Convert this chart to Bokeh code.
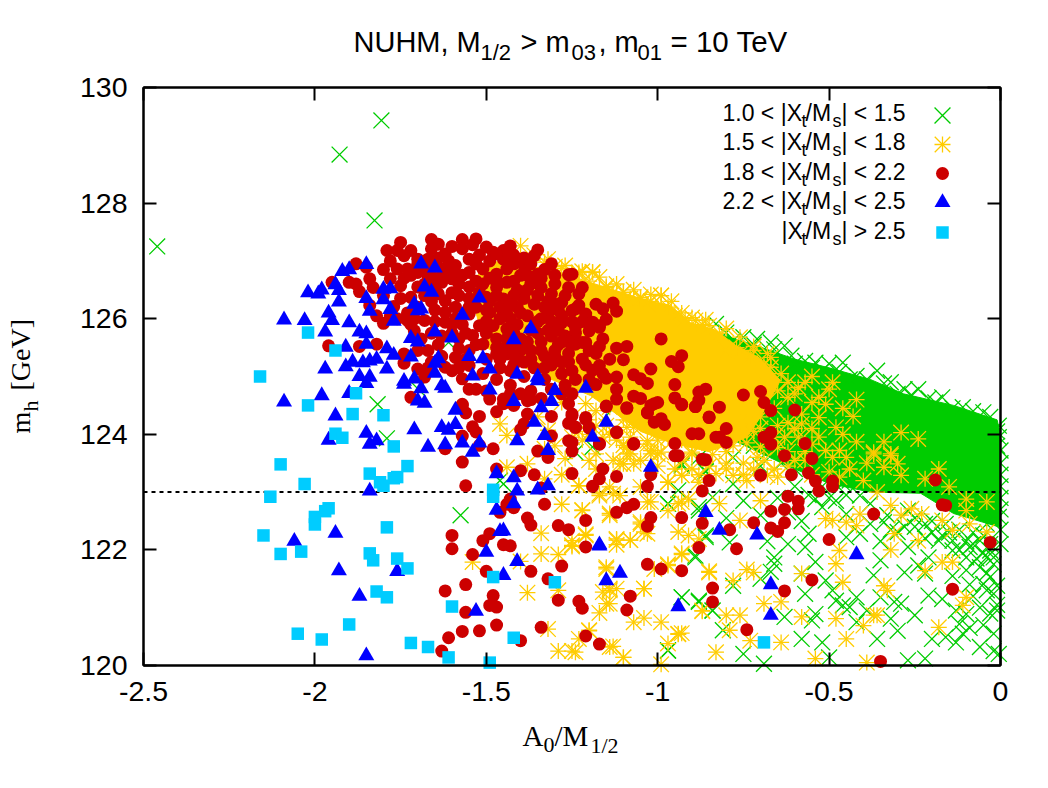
from bokeh.plotting import figure
from bokeh.layouts import column
from bokeh.models import Label, LinearAxis, FixedTicker
from bokeh.embed import file_html
from bokeh.resources import INLINE

x_ticks = [-2.5, -2, -1.5, -1, -0.5, 0]
x_tick_labels = ["-2.5", "-2", "-1.5", "-1", "-0.5", "0"]
y_ticks = [120, 122, 124, 126, 128, 130]
y_tick_labels = ["120", "122", "124", "126", "128", "130"]
limit_x = [-2.5, 0]
limit_y = [123, 123]

# dense, saturated parts of the two lower layers (outline)
green_mass_x = [-0.83,-0.72,-0.60,-0.50,-0.38,-0.283,-0.137,-0.01,0,0,-0.137,-0.233,-0.38,-0.50,-0.62,-0.78,-0.95]
green_mass_y = [125.75,125.55,125.3,125.15,124.95,124.7,124.5,124.25,124.0,122.39,122.63,122.98,123.0,123.15,123.45,123.9,124.2]
yellow_mass_x = [-1.55,-1.50,-1.40,-1.284,-1.167,-1.05,-0.963,-0.904,-0.83,-0.773,-0.70,-0.642,-0.70,-0.74,-0.85,-0.96,-1.05,-1.108,-1.196,-1.371,-1.50]
yellow_mass_y = [126.5,127.0,126.95,126.8,126.57,126.35,126.23,125.93,125.8,125.54,125.31,124.93,124.3,123.95,123.7,123.85,124.05,124.3,124.67,125.10,125.5]

green_pts = [
(-2.46,127.25),(-1.928,128.84),(-1.806,129.43),(-1.826,127.70),(-1.817,124.52),(-1.79,123.93),(-1.575,122.60),(-1.46,123.2),(-1.61,125.59),(-1.70,124.79),
(-0.93,123.49),(-0.86,123.35),(-0.78,123.14),(-0.97,122.80),(-0.88,122.74),(-0.93,121.18),(-0.88,121.10),(-0.84,120.95),(-0.86,122.22),(-0.79,122.13),(-0.89,121.90),(-0.66,121.76),(-0.67,121.62),(-0.70,121.50),(-0.66,121.87),
(-0.56,122.28),(-0.57,122.05),(-0.54,121.79),(-0.58,121.59),(-0.45,122.22),(-0.41,122.28),(-0.51,121.47),(-0.49,121.30),(-0.46,121.04),(-0.42,121.18),(-0.37,121.56),(-0.35,121.82),(-0.28,121.61),(-0.24,121.73),(-0.21,121.87),(-0.22,121.59),(-0.21,121.21),(-0.25,120.87),(-0.31,121.10),(-0.35,121.18),(-0.39,120.95),(-0.32,120.81),(-0.36,120.46),(-0.20,120.46),(-0.16,120.49),(-0.27,120.09),(-0.22,120.12),(-0.06,120.32),(-0.02,120.55),(-0.12,120.72),(-0.10,120.89),(-0.11,120.55),(-0.05,121.41),(-0.03,121.53),(-0.06,121.70),(-0.02,121.24),(-0.04,121.87),(-0.09,122.05),(-0.14,122.16),(-0.02,121.87),(-0.01,121.38),(-0.01,120.95),(-0.005,120.2),
(-0.55,120.78),(-0.54,120.89),(-0.58,120.46),(-0.63,120.84),(-0.69,120.03),(-0.75,120.2),(-0.81,120.61),(-0.97,120.26),(-0.57,121.24),(-0.78,121.38),(-0.50,120.14),(-0.48,121.12),(-0.44,121.01),(-0.29,121.07),
(-0.54,122.88),(-0.52,122.74),(-0.48,122.85),(-0.45,122.62),(-0.41,122.94),(-0.34,122.48),(-0.30,122.31),(-0.27,122.68),(-0.22,122.45),(-0.14,121.99),(-0.10,121.87),(-0.03,121.99),(-0.06,122.16),(-0.18,122.16),(-0.005,122.57),
(-1.19,123.78),(-1.24,123.69),(-1.45,123.14),(-0.93,123.46),(-0.86,123.37),(-0.94,123.03),(-0.97,122.80),(-0.88,122.68),(-0.86,122.25),(-0.89,121.87),(-0.93,121.18),(-0.88,121.12),(-0.84,120.95),(-0.97,120.26),(-1.13,124.44),(-0.88,123.60),(-0.84,122.91),
(-0.83,125.91),(-0.80,125.76),(-0.75,125.68),(-0.71,125.65),(-0.67,125.59),(-0.63,125.53),(-0.61,125.36),(-0.57,125.27),(-0.54,125.24),(-0.50,125.22),(-0.46,125.24),(-0.42,125.01),(-0.36,125.10),(-0.32,124.90),(-0.28,124.78),(-0.24,124.78),(-0.17,124.64),(-0.11,124.47),(-0.05,124.38),(-0.005,124.15),(-0.005,123.95),(0,123.72),
(-0.78,125.62),(-0.72,125.55),(-0.66,125.47),(-0.60,125.22),(-0.55,125.15),(-0.52,125.10),(-0.47,125.08),(-0.44,124.95),(-0.39,124.95),(-0.34,124.88),(-0.30,124.70),(-0.26,124.68),(-0.21,124.62),(-0.19,124.55),(-0.14,124.45),(-0.08,124.40),(-0.03,124.30),(-0.01,124.05),(-0.01,123.8),(0,123.5),(0,123.3),(0,123.1),(0,122.9),(0,122.7),(0,122.35),(0,122.1),
(-0.75,124.0),(-0.72,123.8),(-0.68,123.7),(-0.62,123.9),(-0.58,123.75),(-0.55,123.6),(-0.6,123.4),(-0.64,123.5),(-0.7,123.45),(-0.78,123.6),(-0.82,123.9),(-0.52,123.4),(-0.47,123.4),(-0.46,123.15),(-0.52,123.1),(-0.56,122.95),(-0.6,123.1),
(-0.72,124.4),(-0.68,124.3),(-0.66,124.5),(-0.63,124.3),(-0.6,124.55),(-0.57,124.4),(-0.55,124.7),(-0.56,124.95),(-0.53,124.95),(-0.5,124.7),(-0.47,124.6),(-0.45,124.3),(-0.5,124.2),(-0.48,124.0),(-0.52,123.8),(-0.44,123.2),(-0.5,122.9),(-0.45,122.95),(-0.38,122.8),(-0.33,122.6),(-0.25,122.55),(-0.2,122.3),(-0.12,122.35),(-0.08,122.3),
(-0.65,122.9),(-0.7,122.6),(-0.62,122.65),(-0.58,122.5),(-0.75,122.85),(-0.8,122.55),(-0.68,122.15),(-0.62,122.1),(-0.38,122.45),(-0.35,122.15),(-0.27,122.05),(-0.16,122.45),(-0.04,122.45),(-0.02,122.55),(-0.04,121.6),(-0.08,121.2),(-0.13,120.95),(-0.17,121.15),(-0.14,121.55),(-0.3,120.6),(-0.42,120.75),(-0.52,120.4),
(-0.25,122.4),(-0.2,122.5),(-0.15,122.3),(-0.1,122.15),(-0.05,122.25),(-0.03,122.1),(-0.08,122.1),(-0.12,122.0),(-0.17,122.25),(-0.22,122.2),(-0.28,122.4),(-0.32,122.35),(-0.07,121.85),(-0.02,121.75),(-0.05,121.95),(-0.1,121.65),(-0.04,121.3),(-0.09,121.4),(-0.01,121.05),(-0.03,120.9),(-0.06,121.0),(-0.09,120.65),(-0.05,120.7),(-0.13,120.4),(-0.02,120.25),
]
yellow_pts = [
(-1.46,124.18),(-1.44,123.98),(-1.44,123.43),(-1.38,123.49),(-1.33,123.23),(-1.28,123.30),(-1.27,123.58),(-1.23,123.11),(-1.18,123.40),(-1.10,123.49),(-1.07,123.49),(-1.17,122.94),(-1.13,122.97),(-1.11,122.94),(-1.28,122.79),(-1.22,122.68),(-1.14,122.63),(-1.03,122.83),(-1.05,122.48),(-0.97,122.68),(-0.94,122.80),(-0.91,122.88),(-1.34,122.29),(-1.21,122.27),(-1.25,122.16),(-1.25,122.06),(-1.34,121.93),(-1.29,121.92),(-1.54,121.79),(-1.40,121.80),(-1.12,122.19),(-1.12,122.09),(-1.08,122.17),(-1.04,122.31),(-0.94,122.31),(-0.91,122.25),(-0.88,122.19),(-0.93,121.94),(-1.01,121.67),(-0.97,121.75),(-0.85,121.63),(-1.15,121.70),(-1.38,121.26),(-1.29,121.30),(-1.16,121.27),(-1.14,121.33),(-1.12,121.33),(-1.04,121.33),(-1.14,121.07),(-1.17,120.91),(-1.07,120.75),(-1.04,120.82),(-0.99,120.75),(-0.94,120.54),(-0.93,120.56),(-1.32,120.63),(-1.20,120.60),(-1.23,120.46),(-1.13,120.33),(-1.29,120.25),(-1.25,120.25),(-1.10,120.14),(-0.99,120.02),(-0.83,120.23),(-0.87,120.95),(-1.02,124.24),(-1.03,123.89),(-0.99,123.69),(-0.90,123.69),(-1.10,123.81),(-1.08,123.66),(-1.14,124.47),(-1.05,124.30),(-1.07,124.12),(-1.21,124.53),(-1.18,124.41),(-1.32,124.07),(-0.97,123.17),(-0.88,123.17),(-0.93,123.29),(-1.05,123.09),(-1.14,123.09),
(-1.18,123.66),(-1.11,123.49),(-1.23,123.11),(-1.17,122.97),(-1.09,123.66),(-1.02,123.66),(-1.0,123.66),(-0.97,123.17),(-0.93,123.29),(-1.02,122.83),(-0.93,122.83),(-0.82,122.80),(-1.22,122.69),(-1.14,122.60),(-1.05,122.45),(-1.21,122.25),(-1.25,122.08),(-1.12,122.17),(-1.08,122.17),(-1.03,122.28),(-0.93,121.92),(-1.15,121.67),(-0.97,121.73),(-0.85,121.61),(-1.04,121.33),(-1.14,121.30),(-1.15,121.07),(-0.94,120.55),(-1.20,120.61),(-1.24,120.23),(-1.14,120.32),(-1.10,120.14),(-0.97,120.38),(-0.80,120.87),(-0.76,120.87),(-0.87,120.94),(-0.79,120.61),(-0.73,120.43),(-0.64,120.40),(-0.69,121.07),(-0.64,121.10),(-0.78,121.47),(-0.74,121.66),(-0.72,121.61),(-0.58,121.59),(-0.48,121.76),(-0.46,121.44),(-0.34,121.38),(-0.33,121.30),(-0.58,120.84),(-0.48,120.81),(-0.40,120.69),(-0.37,120.87),(-0.36,120.87),(-0.45,120.46),(-0.54,120.12),(-0.39,120.05),(-0.18,120.66),(-0.11,121.04),(-0.10,121.18),(-0.22,121.64),(-0.17,121.79),(-0.14,121.79),(-0.32,122.0),(-0.47,121.99),(-0.24,122.16),(-0.31,122.28),(-0.76,122.51),(-0.70,122.85),(-0.51,122.54),(-0.49,122.51),(-0.42,122.42),(-0.45,122.48),(-0.41,122.62),(-0.32,122.77),(-0.29,122.60),(-0.26,122.71),(-0.23,122.62),(-0.17,122.51),(-0.14,122.34),(-0.09,122.45),(-0.04,122.31),(-0.10,122.68),(-0.04,122.83),(-0.10,122.88),(-0.15,123.09),(-0.22,123.23),(-0.18,123.40),(-0.29,123.29),(-0.34,123.43),(-0.37,123.66),(-0.32,123.63),(-0.30,123.49),(-0.40,123.20),(-0.47,123.26),(-0.49,123.60),(-0.45,123.60),(-0.36,123.0),(-0.68,123.29),(-0.74,123.20),(-0.78,123.29),(-0.83,123.32),(-0.71,123.60),(-0.65,123.26),
(-0.43,124.31),(-0.29,124.03),(-0.24,123.92),(-0.42,123.87),(-0.34,123.87),(-0.32,123.66),(-0.37,123.69),(-0.59,124.81),(-0.50,124.78),(-0.53,124.64),(-0.51,124.52),(-0.53,124.29),(-0.48,124.12),(-0.46,124.0),(-0.51,123.72),(-0.47,123.72),(-0.58,124.18),(-0.62,124.64),(-0.67,125.33),(-0.67,125.16),(-0.72,125.45),(-0.76,125.39),(-0.85,125.88),(-0.92,126.0),(-0.99,126.40),(-1.19,126.80),(-1.15,126.54),(-1.23,126.80),(-1.10,126.45),(-1.05,126.34),(-1.03,126.25),(-0.97,126.20),(-0.89,125.97),(-0.83,125.62),(-0.80,125.45),(-0.68,124.87),(-0.65,124.75),(-0.74,124.06),(-0.65,123.77),(-0.59,123.95),(-0.55,123.83),(-1.03,123.83),(-1.09,123.77),(-1.09,124.12),(-1.02,123.72),(-0.90,123.66),(-0.76,123.95),
(-1.40,127.26),(-1.32,127.03),(-1.28,126.87),(-1.23,126.77),(-1.19,126.81),(-1.15,126.56),(-1.10,126.46),(-1.05,126.37),(-0.99,126.40),
(-1.36,127.1),(-1.3,126.9),(-1.25,126.72),(-1.2,126.65),(-1.13,126.45),(-1.08,126.35),(-1.02,126.3),(-0.95,126.05),(-0.87,125.9),(-0.82,125.75),(-0.77,125.5),(-0.73,125.35),(-0.69,125.2),(-0.64,125.05),(-0.62,124.9),(-0.6,124.7),(-0.57,124.9),(-0.55,124.55),(-0.58,124.35),(-0.62,124.2),(-0.66,124.45),(-0.7,124.3),(-0.55,124.1),(-0.62,123.7),(-0.68,123.9),(-0.72,124.05),(-0.78,123.8),(-0.84,123.65),(-0.8,123.5),(-0.75,123.5),(-0.69,123.55),(-0.62,123.45),(-0.57,123.55),(-0.55,123.3),(-0.5,123.35),(-0.53,123.95),(-0.44,123.4),(-0.39,123.5),(-0.42,124.6),(-0.46,124.45),(-0.49,124.9),(-0.55,125.0),
(-1.2,124.25),(-1.15,124.15),(-1.22,123.9),(-1.16,123.95),(-1.12,123.9),(-1.3,123.8),(-1.35,124.3),(-1.28,124.55),(-1.1,124.25),(-0.97,123.95),(-0.93,123.9),(-0.85,123.85),(-0.8,123.7),(-1.05,123.55),(-1.13,123.55),(-1.0,123.45),(-0.93,123.55),(-0.85,123.45),(-1.2,123.55),(-1.33,123.75),
(-1.33,126.98),(-1.27,126.92),(-1.22,126.82),(-1.17,126.72),(-1.12,126.6),(-1.07,126.5),(-1.02,126.42),(-0.96,126.3),(-0.93,126.1),(-0.9,126.02),(-0.86,125.98),(-0.8,125.83),(-0.76,125.68),(-0.72,125.52),(-0.68,125.4),
(-0.82,124.0),(-0.78,124.0),(-0.74,123.85),(-0.7,123.78),(-0.66,123.95),(-0.72,123.4),(-0.66,123.4),(-0.6,123.55),(-0.57,123.7),(-0.63,123.95),(-0.6,124.1),(-0.65,124.15),(-0.7,124.1),(-0.76,124.2),(-0.82,124.25),(-0.87,124.0),(-0.92,124.05),(-0.96,124.15),(-0.9,123.4),(-0.95,123.4),(-0.8,123.4),(-0.75,123.3),(-0.88,123.3),(-1.2,124.0),(-1.14,124.0),(-1.08,123.95),(-1.0,123.9),(-1.25,123.95),(-1.18,124.15),(-1.23,124.05),
]
red_pts = [
(-1.57,124.50),(-1.56,124.37),(-1.52,124.31),(-1.54,124.13),(-1.53,124.04),(-1.57,123.97),(-1.62,123.75),(-1.52,123.81),(-1.48,123.75),(-1.57,123.52),(-1.47,124.39),(-1.45,124.53),(-1.42,124.50),(-1.40,124.08),(-1.38,124.35),(-1.39,124.18),(-1.31,124.31),(-1.31,123.97),(-1.35,123.71),(-1.32,123.60),(-1.26,123.89),(-1.25,123.71),(-1.26,124.19),(-1.25,124.35),(-1.24,124.12),(-1.21,124.29),(-1.20,124.11),(-1.17,123.84),(-1.12,124.04),(-1.07,123.84),(-1.15,124.49),(-1.09,124.46),(-1.03,124.38),(-1.01,124.21),(-0.98,124.17),(-0.99,124.27),(-0.95,123.84),(-0.95,123.63),(-0.90,124.01),(-0.88,124.01),(-0.85,124.30),(-0.83,123.95),(-0.89,124.48),(-0.93,124.52),(-1.01,124.53),(-1.26,124.53),(-1.38,124.58),(-1.25,123.32),(-1.36,123.30),(-1.40,123.37),(-1.47,123.40),(-1.16,123.40),(-1.17,123.23),(-1.12,123.27),(-1.19,123.10),(-1.03,123.10),(-1.02,123.30),(-0.86,123.56),(-0.85,123.20),(-0.87,123.02),(-1.56,123.11),(-1.34,123.07),(-1.33,122.79),(-1.43,122.88),(-1.44,122.79),(-1.42,122.73),(-1.46,122.65),(-1.38,122.55),(-1.37,122.43),(-1.29,122.42),(-1.26,122.35),(-1.21,122.51),(-1.12,122.65),(-1.09,122.73),(-1.07,122.79),(-1.02,122.56),(-1.03,122.41),(-0.93,122.56),(-0.87,122.46),(-0.88,122.04),(-1.60,122.25),(-1.60,122.02),(-1.54,121.92),(-1.51,122.16),(-1.49,122.28),(-1.45,122.09),(-1.43,122.07),(-1.21,122.05),(-1.28,121.72),(-1.37,121.63),(-1.50,121.63),(-1.32,121.50),(-1.03,121.75),(-0.99,121.67),(-0.93,121.64),(-1.56,121.40),(-1.62,121.29),(-1.48,121.21),(-1.49,121.04),(-1.47,121.01),(-1.56,120.92),(-1.29,121.13),(-1.23,121.11),(-1.22,120.99),(-1.08,121.20),(-1.09,120.96),(-0.84,121.34),(-0.84,121.10),(-1.47,120.70),(-1.52,120.60),(-1.57,120.59),(-1.61,120.48),(-1.34,120.66),(-1.21,120.51),(-1.17,120.37),(-1.40,120.43),(-1.63,120.25),
(-0.94,123.63),(-0.63,123.63),(-0.55,123.58),(-0.70,123.29),(-0.61,123.30),(-0.56,123.33),(-0.54,123.19),(-0.49,123.19),(-0.49,123.10),(-0.53,123.02),(-0.62,122.93),(-0.59,122.84),(-0.59,122.71),(-0.63,122.70),(-0.67,122.67),(-0.72,122.47),(-0.63,122.47),(-0.67,122.38),(-0.65,122.32),(-0.79,122.35),(-0.77,122.02),(-0.50,122.18),(-0.37,122.62),(-0.19,123.21),(-0.17,122.78),(-0.16,122.77),(-0.03,122.13),(-0.55,121.48),(-0.14,121.32),(-0.63,121.29),(-0.74,120.62),(-0.35,120.07),
(-1.25,126.77),(-1.22,126.54),(-1.24,126.17),(-1.18,126.25),(-1.13,126.27),(-1.12,126.13),(-1.16,126.17),(-1.15,125.99),(-1.21,126.02),(-1.17,125.88),(-1.20,125.79),(-1.24,125.56),(-1.22,125.59),(-1.17,125.52),(-1.12,125.49),(-1.09,125.52),(-0.99,125.65),(-1.22,125.30),(-1.14,125.30),(-1.10,125.29),(-0.93,125.36),(-0.96,125.26),(-0.94,125.17),(-1.02,125.13),(-1.07,125.03),(-1.05,124.96),(-1.03,124.88),(-1.17,125.19),(-1.19,125.11),(-1.12,124.99),(-1.15,124.97),(-0.95,124.86),(-1.18,124.86),(-1.12,124.78),(-0.86,124.78),(-0.88,124.73),(-0.75,124.68),(-0.70,124.74),(-0.69,124.55),(-0.67,124.41),(-0.60,124.42),(-0.82,124.47),(-0.88,124.59),(-0.89,124.48),(-0.95,124.63),(-0.93,124.51),(-1.07,124.66),(-1.05,124.62),(-1.00,124.55),(-1.02,124.50),(-1.03,124.37),(-0.85,124.29),(-1.12,124.61),(-1.15,124.48),(-1.09,124.45),(-1.21,124.26),(-1.20,124.11),(-1.24,124.12),(-1.25,124.32),(-1.12,124.03),(-1.07,123.83),(-1.17,123.83),(-1.25,123.86),(-0.80,124.10),(-0.82,123.95),(-0.80,123.86),(-0.87,123.57),(-0.67,124.03),(-0.69,123.95),(-0.67,123.83),(-0.57,123.84),
(-1.43,127.26),(-1.44,127.18),(-1.35,127.19),(-1.36,127.09),(-1.48,127.15),(-1.35,126.77),(-1.26,126.76),(-1.26,126.54),(-1.23,126.43),(-1.34,126.54),(-1.30,126.60),(-1.31,126.43),(-1.28,126.28),(-1.32,126.08),(-1.25,126.14),(-1.23,126.23),(-1.21,126.08),(-1.22,125.95),(-1.19,125.94),(-1.17,125.85),(-1.28,125.93),(-1.30,125.88),(-1.24,125.75),(-1.21,125.59),(-1.25,125.56),
(-1.75,127.32),(-1.66,127.37),(-1.64,127.29),(-1.57,127.37),(-1.53,127.38),(-1.79,127.18),(-1.76,127.18),(-1.78,127.0),(-1.74,127.09),(-1.66,127.21),(-1.62,127.12),(-1.57,127.21),(-1.50,127.24),(-1.45,127.18),(-1.88,126.95),(-1.85,126.89),(-1.70,127.03),(-1.67,127.03),(-1.61,127.0),(-1.55,127.03),(-1.49,127.0),(-1.45,127.03),(-1.76,126.86),(-1.78,126.69),(-1.75,126.57),(-1.73,126.86),(-1.67,126.75),(-1.63,126.86),(-1.59,126.92),(-1.55,126.80),(-1.51,126.86),(-1.47,126.77),(-1.44,126.86),(-1.84,126.69),(-1.90,126.63),(-1.88,126.60),(-1.83,126.54),(-1.87,126.47),(-1.95,126.63),(-1.72,126.37),(-1.63,126.63),(-1.60,126.69),(-1.58,126.60),(-1.51,126.60),(-1.47,126.54),(-1.44,126.63),(-1.64,126.43),(-1.62,126.31),(-1.58,126.40),(-1.50,126.37),(-1.45,126.34),(-1.62,126.11),(-1.62,125.94),(-1.55,126.08),(-1.49,126.11),(-1.44,126.08),(-1.77,126.21),(-1.84,126.23),(-1.76,126.0),(-1.73,125.97),(-1.71,126.0),(-1.68,125.97),(-1.80,125.92),(-1.71,125.79),(-1.52,125.88),(-1.48,125.88),(-1.44,125.82),(-1.54,125.71),(-1.51,125.56),(-1.53,125.55),(-1.44,125.53),(-1.47,125.65),(-1.64,125.55),(-1.67,125.45),(-1.70,125.45),(-1.74,125.39),(-1.74,125.23),(-1.82,125.56),(-1.87,125.52),(-1.70,125.13),(-1.68,124.99),(-1.66,125.25),(-1.62,125.16),(-1.60,125.10),(-1.59,125.33),(-1.58,125.48),(-1.55,125.19),(-1.47,125.39),(-1.44,125.39),(-1.57,124.96),(-1.55,124.78),(-1.53,124.78),(-1.49,124.61),(-1.45,124.61),(-1.72,124.64),(-1.57,124.52),(-1.96,125.53),
(-1.42,126.95),(-1.40,126.75),(-1.39,126.92),(-1.37,126.6),(-1.41,126.5),(-1.39,126.35),(-1.36,126.25),(-1.41,126.2),(-1.38,126.05),(-1.35,125.95),(-1.41,125.9),(-1.37,125.8),(-1.32,125.8),(-1.40,125.65),(-1.34,125.6),(-1.37,125.45),(-1.41,125.3),(-1.33,125.35),(-1.29,125.55),(-1.31,125.2),(-1.36,125.15),(-1.43,125.1),(-1.39,125.0),(-1.33,124.95),(-1.28,125.05),(-1.26,125.25),(-1.43,124.85),(-1.37,124.75),(-1.31,124.78),(-1.27,124.85),
(-1.55,126.55),(-1.53,126.2),(-1.59,126.2),(-1.57,125.9),(-1.65,126.15),(-1.68,126.6),(-1.70,126.8),(-1.53,126.65),(-1.49,126.3),(-1.46,126.2),(-1.50,125.95),(-1.55,125.45),(-1.50,125.3),(-1.46,125.15),(-1.51,125.05),(-1.47,124.95),(-1.40,124.7),(-1.34,124.62),(-1.60,125.75),(-1.63,125.7),(-1.59,126.0),(-1.66,126.3),(-1.70,126.55),
(-1.72,127.18),(-1.70,126.95),(-1.66,126.92),(-1.64,127.05),(-1.60,127.25),(-1.54,127.28),(-1.52,127.1),(-1.47,127.12),(-1.42,127.1),(-1.39,127.05),(-1.33,126.85),(-1.30,126.75),(-1.32,126.3),(-1.29,126.15),(-1.34,126.0),(-1.31,125.7),(-1.27,125.7),(-1.34,125.45),(-1.3,125.35),(-1.39,125.25),(-1.47,125.5),(-1.42,125.5),(-1.58,125.65),(-1.56,125.3),(-1.43,126.0),(-1.47,126.4),(-1.55,126.35),(-1.74,126.7),(-1.8,126.85),(-1.65,126.55),(-1.6,126.45),(-1.53,126.95),
(-1.42,126.4),(-1.38,126.5),(-1.35,126.4),(-1.33,126.2),(-1.30,126.25),(-1.27,126.4),(-1.28,126.05),(-1.25,125.95),(-1.31,125.95),(-1.35,125.75),(-1.29,125.8),(-1.26,125.6),(-1.38,125.6),(-1.42,125.75),(-1.44,125.65),(-1.40,125.45),(-1.30,125.45),(-1.33,125.15),(-1.28,125.25),(-1.42,125.2),(-1.37,125.3),(-1.46,125.3),(-1.40,126.1),(-1.43,126.25),(-1.46,126.0),(-1.42,126.65),(-1.38,126.75),(-1.34,126.7),(-1.31,126.95),(-1.37,126.95),(-1.49,126.7),(-1.52,126.45),(-1.55,126.2),(-1.57,126.75),(-1.62,126.75),(-1.65,126.7),(-1.68,126.9),(-1.72,126.75),(-1.6,126.85),(-1.47,126.65),(-1.5,126.15),(-1.56,125.75),(-1.5,125.75),(-1.42,125.38),(-1.24,125.85),(-1.28,125.6),(-1.2,125.45),(-1.16,125.65),(-1.18,125.4),(-1.26,125.4),(-1.25,125.1),(-1.21,125.2),(-1.24,124.95),(-1.2,124.95),(-1.16,125.05),(-1.28,124.7),(-1.25,124.7),(-1.37,124.6),(-1.5,124.75),(-1.43,124.7),(-1.6,125.9),(-1.66,125.75),(-1.69,125.65),(-1.63,125.35),(-1.67,125.15),(-1.58,125.15),(-1.73,126.1),(-1.7,126.2),(-1.75,126.35),(-1.8,126.4),(-1.68,126.4),(-1.78,126.05),(-1.82,126.05),(-1.72,125.9),(-1.65,125.95),
]
blue_pts = [
(-1.85,126.94),(-1.92,126.82),(-1.90,126.85),(-1.69,126.95),(-1.65,126.88),(-2.02,126.45),(-1.98,126.50),(-1.99,126.43),(-1.94,126.59),(-1.93,126.49),(-1.80,126.51),(-1.78,126.52),(-1.68,126.55),(-1.66,126.46),(-1.93,126.29),(-1.85,126.35),(-1.80,126.33),(-1.52,126.36),(-1.96,126.10),(-1.84,126.13),(-1.78,126.16),(-1.71,126.25),(-1.69,126.17),(-1.70,126.14),(-1.95,125.97),(-2.09,125.98),(-2.03,125.97),(-1.77,125.96),(-1.57,126.06),(-1.90,125.93),(-1.87,125.77),(-1.85,125.74),(-1.97,125.77),(-1.65,125.77),(-1.60,125.67),(-1.37,125.83),(-1.42,125.64),(-1.72,125.66),(-1.70,125.60),(-1.91,125.51),(-1.85,125.56),(-1.79,125.48),(-1.77,125.37),(-1.89,125.25),(-1.91,125.17),(-1.86,125.24),(-1.84,125.27),(-1.82,125.30),(-1.72,125.34),(-1.79,125.13),(-1.97,125.13),(-1.64,125.31),(-1.65,125.23),(-1.65,125.06),(-1.55,125.35),(-1.51,125.31),(-1.49,125.13),(-1.41,125.04),(-1.35,124.99),(-1.54,125.01),(-1.87,125.0),(-1.84,124.99),(-1.74,124.92),(-1.71,124.96),
(-2.09,124.56),(-1.98,124.67),(-1.90,124.71),(-1.94,124.32),(-1.96,123.90),(-1.85,124.02),(-1.84,123.83),(-1.82,123.89),(-1.71,124.08),(-1.63,124.12),(-1.59,124.17),(-1.61,124.07),(-1.67,123.78),(-1.62,123.82),(-1.57,123.85),(-1.52,123.85),(-1.54,123.69),(-1.41,123.89),(-1.33,123.98),(-1.32,123.72),(-1.70,124.58),(-1.68,124.54),(-1.59,124.42),(-1.49,124.77),(-1.42,124.57),(-1.34,124.46),(-1.31,124.57),(-1.36,124.21),(-1.30,124.76),(-1.69,124.79),(-1.63,124.84),(-1.62,124.80),(-1.74,124.87),(-1.85,124.88),(-1.35,124.93),
(-1.47,123.32),(-1.42,123.25),(-1.41,123.02),(-1.35,123.04),(-1.32,123.11),(-1.84,123.02),(-1.42,122.80),(-1.47,122.69),(-1.46,122.32),(-1.45,122.33),(-1.94,122.29),(-2.06,122.15),(-1.50,121.96),(-1.41,121.80),(-1.93,121.64),(-1.76,121.63),(-1.45,121.56),(-1.87,121.20),(-1.53,120.94),(-1.85,120.17),
(-1.02,123.43),(-0.86,122.65),(-0.82,122.34),(-0.71,122.26),(-1.17,122.09),(-1.17,122.07),(-1.11,121.60),(-1.15,121.47),(-0.94,121.02),(-0.67,121.40),(-0.67,120.87),(-0.42,121.92),
(-1.21,124.80),(-1.15,124.21),(-1.19,123.95),
]
cyan_pts = [
(-1.88,124.71),(-2.02,124.50),(-1.89,124.35),(-1.80,124.33),(-1.94,124.01),(-1.92,123.94),(-1.77,123.79),(-2.10,123.48),(-1.73,123.45),(-1.84,123.32),(-2.03,123.14),(-1.76,123.26),(-1.77,123.24),(-1.81,123.17),(-1.80,123.11),(-1.48,123.04),(-1.48,122.92),(-2.13,122.92),(-1.96,122.72),(-1.97,122.67),(-2.00,122.57),(-2.00,122.44),(-1.79,122.39),(-2.15,122.25),(-2.10,121.93),(-2.04,121.97),(-1.84,121.94),(-1.83,121.82),(-1.76,121.85),(-1.73,121.68),(-1.48,121.53),(-1.30,121.44),(-1.82,121.28),(-1.79,121.18),(-1.60,121.02),(-1.90,120.71),(-1.42,120.48),(-2.05,120.55),(-1.98,120.45),(-1.72,120.39),(-1.67,120.32),(-1.61,120.14),(-1.49,120.05),(-0.69,120.40),(-2.02,125.76),(-1.94,125.45),(-2.16,125.0),
]

green_x = [a for a, b in green_pts]; green_y = [b for a, b in green_pts]
yellow_x = [a for a, b in yellow_pts]; yellow_y = [b for a, b in yellow_pts]
red_x = [a for a, b in red_pts]; red_y = [b for a, b in red_pts]
blue_x = [a for a, b in blue_pts]; blue_y = [b for a, b in blue_pts]
cyan_x = [a for a, b in cyan_pts]; cyan_y = [b for a, b in cyan_pts]

GREEN, YELLOW, RED, BLUE, CYAN = "#00cc00", "#ffcc00", "#cc0000", "#0000ff", "#00ccff"
W, H = 1048, 788
L, R, T, B = 143, 1000, 87, 665   # frame edges, in page pixels
SANS, SERIF = "Liberation Sans", "Liberation Serif"
kx_, ky_ = 2.5/(R-L), 10/(B-T)

# full-page figure with the same scales as the axes: marks may run past the frame, as in the reference
base = figure(width=W, height=H, x_range=(-2.5-L*kx_, (W-L)*kx_-2.5), y_range=(120-(H-B)*ky_, 130+T*ky_),
              x_axis_type=None, y_axis_type=None, output_backend="svg", toolbar_location=None,
              min_border=0, outline_line_color=None, margin=(0, 0, 0, 0), frame_align=False)
base.grid.visible = False

# axes figure, laid transparently over the marks
p = figure(width=W, height=H, x_range=(-2.5, 0), y_range=(120, 130), output_backend="svg", toolbar_location=None,
           min_border_left=L, min_border_right=W-R, min_border_top=T, min_border_bottom=H-B,
           background_fill_color=None, border_fill_color=None, margin=(-H, 0, 0, 0), frame_align=False)
p.frame_width = R-L
p.frame_height = B-T
p.grid.visible = False
p.outline_line_color = "black"
p.outline_line_width = 2

def style(ax, ticks, labels=None):
    ax.ticker = FixedTicker(ticks=ticks)
    ax.axis_line_color = "black"; ax.axis_line_width = 2
    ax.major_tick_line_color = "black"; ax.major_tick_line_width = 2
    ax.major_tick_in = 13; ax.major_tick_out = 0
    ax.minor_tick_line_color = None
    if labels:
        ax.major_label_overrides = dict(zip(ticks, labels))
        ax.major_label_text_font = SANS
        ax.major_label_text_font_size = "28.5px"
        ax.major_label_text_color = "black"
    else:
        ax.major_label_text_font_size = "0px"
        ax.major_label_text_color = None

style(p.xaxis[0], x_ticks, x_tick_labels); p.xaxis[0].major_label_standoff = 16
style(p.yaxis[0], y_ticks, y_tick_labels); p.yaxis[0].major_label_standoff = 16
top = LinearAxis(); style(top, x_ticks); p.add_layout(top, "above")
right = LinearAxis(); style(right, y_ticks); p.add_layout(right, "right")

def star(xs, ys, width=1.3):
    base.scatter(xs, ys, marker="cross", size=16, line_color=YELLOW, line_width=width, fill_color=None)
    base.scatter(xs, ys, marker="x", size=22, line_color=YELLOW, line_width=width, fill_color=None)

base.patch(green_mass_x, green_mass_y, fill_color=GREEN, line_color=GREEN)
base.scatter(green_x, green_y, marker="x", size=22.5, line_color=GREEN, line_width=1.3, fill_color=None)
base.line(limit_x, limit_y, line_color="black", line_width=2, line_dash="4 4")
base.patch(yellow_mass_x, yellow_mass_y, fill_color=YELLOW, line_color=YELLOW)
star(yellow_x, yellow_y)
base.scatter(red_x, red_y, marker="circle", size=13, fill_color=RED, line_color=RED, line_width=0)
base.scatter(blue_x, blue_y, marker="triangle", size=16, fill_color=BLUE, line_color=BLUE, line_width=0)
base.scatter(cyan_x, cyan_y, marker="square", size=12.5, fill_color=CYAN, line_color=CYAN, line_width=0)

# legend keys, at the legend's column
def dx(px): return -2.5 + (px-L)*kx_
def dy(py): return 120 + (B-py)*ky_
kx = dx(942)
base.scatter([kx], [dy(115)], marker="x", size=22.5, line_color=GREEN, line_width=1.3, fill_color=None)
star([kx], [dy(144)])
base.scatter([kx], [dy(173)], marker="circle", size=13, fill_color=RED, line_width=0)
base.scatter([kx], [dy(202)], marker="triangle", size=16, fill_color=BLUE, line_width=0)
base.scatter([kx], [dy(232)], marker="square", size=12.5, fill_color=CYAN, line_width=0)

def txt(s, px, py, size, font=SANS, angle=0):
    # Label sits a little below the requested baseline in this renderer
    if angle:
        px -= 0.37*size
    else:
        py -= 0.37*size
    base.add_layout(Label(x=dx(px), y=dy(py), text=s, text_font=font, text_font_size=f"{size}px",
                          text_baseline="alphabetic", text_align="left", text_color="black", angle=angle,
                          angle_units="deg"))

# title
txt("NUHM, M", 353, 52, 29); txt("1/2", 480, 60, 22); txt("> m", 520, 52, 29); txt("03", 571, 60, 22)
txt(", m", 598, 52, 29); txt("01", 637, 60, 22); txt("= 10 TeV", 670, 52, 29.5)
# x label
txt("A", 522, 746, 29, SERIF); txt("0", 543, 753, 22, SERIF); txt("/M", 554, 746, 29, SERIF); txt("1/2", 590, 753, 22, SERIF)
# y label
txt("m", 30, 433, 28, SERIF, 90); txt("h", 38, 411, 22, SERIF, 90); txt("[GeV]", 30, 390, 28, SERIF, 90)
# legend texts
legend_left = ["1.0 < |X", "1.5 < |X", "1.8 < |X", "2.2 < |X"]
legend_right = ["| < 1.5", "| < 1.8", "| < 2.2", "| < 2.5"]
for i, (a, b) in enumerate(zip(legend_left + ["|X"], legend_right + ["| > 2.5"])):
    yb = 121 + i*29.5
    txt(a, 722 if i < 4 else 781, yb, 23)
    txt("t", 801, yb+6, 18); txt("/M", 805, yb, 23); txt("s", 832, yb+6, 18); txt(b, 841, yb, 23)

open("out.html", "w").write(file_html(column(base, p, spacing=0, margin=(0, 0, 0, 0)), INLINE))
